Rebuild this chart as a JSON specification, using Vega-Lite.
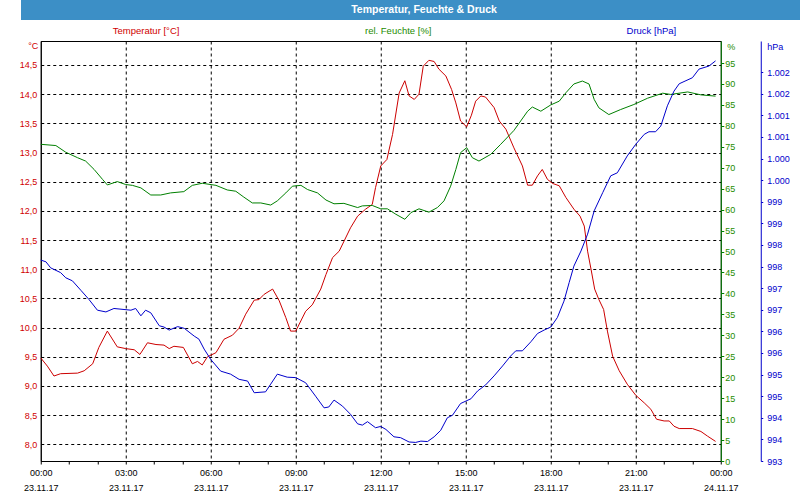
{
  "$schema": "https://vega.github.io/schema/vega-lite/v6.json",
  "padding": 0,
  "background": "white",
  "center": true,
  "spacing": 4,
  "config": {
    "font": "Liberation Sans",
    "view": {"stroke": "black"},
    "axis": {"labelFont": "Liberation Sans", "titleFont": "Liberation Sans", "labelFontSize": 9, "titleFontSize": 9, "titleFontWeight": "normal", "titlePadding": 0}
  },
  "datasets": {
    "temp": [
      {"t": "2017-11-23T00:00", "v": 9.48}, {"t": "2017-11-23T00:14", "v": 9.34}, {"t": "2017-11-23T00:28", "v": 9.17},
      {"t": "2017-11-23T00:42", "v": 9.21}, {"t": "2017-11-23T01:18", "v": 9.22}, {"t": "2017-11-23T01:32", "v": 9.26},
      {"t": "2017-11-23T01:50", "v": 9.38}, {"t": "2017-11-23T02:03", "v": 9.66}, {"t": "2017-11-23T02:21", "v": 9.94},
      {"t": "2017-11-23T02:42", "v": 9.67}, {"t": "2017-11-23T03:00", "v": 9.64}, {"t": "2017-11-23T03:18", "v": 9.62},
      {"t": "2017-11-23T03:30", "v": 9.54}, {"t": "2017-11-23T03:46", "v": 9.74}, {"t": "2017-11-23T04:04", "v": 9.71},
      {"t": "2017-11-23T04:21", "v": 9.70}, {"t": "2017-11-23T04:32", "v": 9.64}, {"t": "2017-11-23T04:42", "v": 9.68},
      {"t": "2017-11-23T05:02", "v": 9.66}, {"t": "2017-11-23T05:21", "v": 9.38}, {"t": "2017-11-23T05:32", "v": 9.42},
      {"t": "2017-11-23T05:42", "v": 9.36}, {"t": "2017-11-23T05:53", "v": 9.50}, {"t": "2017-11-23T06:11", "v": 9.57},
      {"t": "2017-11-23T06:28", "v": 9.80}, {"t": "2017-11-23T06:46", "v": 9.87}, {"t": "2017-11-23T07:00", "v": 9.99},
      {"t": "2017-11-23T07:14", "v": 10.23}, {"t": "2017-11-23T07:32", "v": 10.47}, {"t": "2017-11-23T07:42", "v": 10.48},
      {"t": "2017-11-23T07:53", "v": 10.57}, {"t": "2017-11-23T08:11", "v": 10.66}, {"t": "2017-11-23T08:25", "v": 10.46},
      {"t": "2017-11-23T08:39", "v": 10.17}, {"t": "2017-11-23T08:49", "v": 9.94}, {"t": "2017-11-23T09:00", "v": 9.94},
      {"t": "2017-11-23T09:21", "v": 10.28}, {"t": "2017-11-23T09:35", "v": 10.39}, {"t": "2017-11-23T09:53", "v": 10.66},
      {"t": "2017-11-23T10:04", "v": 10.91}, {"t": "2017-11-23T10:18", "v": 11.20}, {"t": "2017-11-23T10:32", "v": 11.31},
      {"t": "2017-11-23T10:56", "v": 11.71}, {"t": "2017-11-23T11:11", "v": 11.91}, {"t": "2017-11-23T11:28", "v": 12.03},
      {"t": "2017-11-23T11:42", "v": 12.11}, {"t": "2017-11-23T11:49", "v": 12.40}, {"t": "2017-11-23T12:00", "v": 12.77},
      {"t": "2017-11-23T12:13", "v": 12.88}, {"t": "2017-11-23T12:25", "v": 13.31}, {"t": "2017-11-23T12:39", "v": 14.02},
      {"t": "2017-11-23T12:51", "v": 14.23}, {"t": "2017-11-23T13:00", "v": 13.97}, {"t": "2017-11-23T13:11", "v": 13.91},
      {"t": "2017-11-23T13:21", "v": 14.00}, {"t": "2017-11-23T13:30", "v": 14.48}, {"t": "2017-11-23T13:42", "v": 14.58},
      {"t": "2017-11-23T13:53", "v": 14.56}, {"t": "2017-11-23T14:03", "v": 14.43}, {"t": "2017-11-23T14:18", "v": 14.31},
      {"t": "2017-11-23T14:30", "v": 14.08}, {"t": "2017-11-23T14:39", "v": 13.85}, {"t": "2017-11-23T14:49", "v": 13.54},
      {"t": "2017-11-23T15:02", "v": 13.44}, {"t": "2017-11-23T15:12", "v": 13.64}, {"t": "2017-11-23T15:21", "v": 13.88},
      {"t": "2017-11-23T15:32", "v": 13.97}, {"t": "2017-11-23T15:42", "v": 13.95}, {"t": "2017-11-23T16:00", "v": 13.77},
      {"t": "2017-11-23T16:11", "v": 13.54}, {"t": "2017-11-23T16:25", "v": 13.40}, {"t": "2017-11-23T16:42", "v": 13.08},
      {"t": "2017-11-23T17:00", "v": 12.77}, {"t": "2017-11-23T17:11", "v": 12.44}, {"t": "2017-11-23T17:21", "v": 12.44},
      {"t": "2017-11-23T17:32", "v": 12.60}, {"t": "2017-11-23T17:42", "v": 12.71}, {"t": "2017-11-23T17:53", "v": 12.54},
      {"t": "2017-11-23T18:04", "v": 12.47}, {"t": "2017-11-23T18:18", "v": 12.43}, {"t": "2017-11-23T18:32", "v": 12.23},
      {"t": "2017-11-23T18:49", "v": 12.03}, {"t": "2017-11-23T19:02", "v": 11.91}, {"t": "2017-11-23T19:11", "v": 11.74},
      {"t": "2017-11-23T19:18", "v": 11.31}, {"t": "2017-11-23T19:26", "v": 10.97}, {"t": "2017-11-23T19:33", "v": 10.66},
      {"t": "2017-11-23T19:42", "v": 10.48}, {"t": "2017-11-23T19:52", "v": 10.31}, {"t": "2017-11-23T20:00", "v": 9.94},
      {"t": "2017-11-23T20:11", "v": 9.51}, {"t": "2017-11-23T20:25", "v": 9.26}, {"t": "2017-11-23T20:42", "v": 9.03},
      {"t": "2017-11-23T21:00", "v": 8.84}, {"t": "2017-11-23T21:18", "v": 8.71}, {"t": "2017-11-23T21:32", "v": 8.60},
      {"t": "2017-11-23T21:44", "v": 8.43}, {"t": "2017-11-23T22:00", "v": 8.40}, {"t": "2017-11-23T22:11", "v": 8.40},
      {"t": "2017-11-23T22:21", "v": 8.31}, {"t": "2017-11-23T22:32", "v": 8.27}, {"t": "2017-11-23T23:00", "v": 8.27},
      {"t": "2017-11-23T23:18", "v": 8.22}, {"t": "2017-11-23T23:32", "v": 8.14}, {"t": "2017-11-23T23:49", "v": 8.05}
    ],
    "hum": [
      {"t": "2017-11-23T00:00", "v": 75.6}, {"t": "2017-11-23T00:32", "v": 75.3}, {"t": "2017-11-23T00:53", "v": 73.7},
      {"t": "2017-11-23T01:18", "v": 72.4}, {"t": "2017-11-23T01:35", "v": 71.6}, {"t": "2017-11-23T01:53", "v": 69.6},
      {"t": "2017-11-23T02:11", "v": 67.2}, {"t": "2017-11-23T02:21", "v": 65.9}, {"t": "2017-11-23T02:42", "v": 66.7},
      {"t": "2017-11-23T03:00", "v": 66.0}, {"t": "2017-11-23T03:14", "v": 65.8}, {"t": "2017-11-23T03:32", "v": 65.2},
      {"t": "2017-11-23T03:53", "v": 63.5}, {"t": "2017-11-23T04:14", "v": 63.5}, {"t": "2017-11-23T04:35", "v": 64.0},
      {"t": "2017-11-23T05:03", "v": 64.3}, {"t": "2017-11-23T05:21", "v": 65.8}, {"t": "2017-11-23T05:42", "v": 66.3},
      {"t": "2017-11-23T06:11", "v": 65.8}, {"t": "2017-11-23T06:35", "v": 64.7}, {"t": "2017-11-23T06:53", "v": 64.4},
      {"t": "2017-11-23T07:10", "v": 63.0}, {"t": "2017-11-23T07:28", "v": 61.6}, {"t": "2017-11-23T07:46", "v": 61.6},
      {"t": "2017-11-23T08:07", "v": 61.1}, {"t": "2017-11-23T08:21", "v": 62.1}, {"t": "2017-11-23T08:39", "v": 64.0},
      {"t": "2017-11-23T08:53", "v": 65.6}, {"t": "2017-11-23T09:11", "v": 65.8}, {"t": "2017-11-23T09:25", "v": 64.8},
      {"t": "2017-11-23T09:46", "v": 64.0}, {"t": "2017-11-23T10:04", "v": 62.3}, {"t": "2017-11-23T10:21", "v": 61.4},
      {"t": "2017-11-23T10:42", "v": 61.5}, {"t": "2017-11-23T11:11", "v": 60.5}, {"t": "2017-11-23T11:21", "v": 60.9},
      {"t": "2017-11-23T11:42", "v": 61.0}, {"t": "2017-11-23T12:00", "v": 60.2}, {"t": "2017-11-23T12:14", "v": 60.2},
      {"t": "2017-11-23T12:32", "v": 58.9}, {"t": "2017-11-23T12:51", "v": 57.7}, {"t": "2017-11-23T13:04", "v": 59.3},
      {"t": "2017-11-23T13:21", "v": 60.2}, {"t": "2017-11-23T13:42", "v": 59.4}, {"t": "2017-11-23T14:00", "v": 60.5},
      {"t": "2017-11-23T14:14", "v": 62.1}, {"t": "2017-11-23T14:28", "v": 65.6}, {"t": "2017-11-23T14:39", "v": 69.6},
      {"t": "2017-11-23T14:49", "v": 73.6}, {"t": "2017-11-23T15:02", "v": 74.8}, {"t": "2017-11-23T15:14", "v": 72.4},
      {"t": "2017-11-23T15:28", "v": 71.6}, {"t": "2017-11-23T15:53", "v": 73.2}, {"t": "2017-11-23T16:14", "v": 75.6},
      {"t": "2017-11-23T16:42", "v": 78.9}, {"t": "2017-11-23T17:11", "v": 83.5}, {"t": "2017-11-23T17:21", "v": 84.5},
      {"t": "2017-11-23T17:39", "v": 83.5}, {"t": "2017-11-23T18:00", "v": 85.0}, {"t": "2017-11-23T18:18", "v": 85.9},
      {"t": "2017-11-23T18:32", "v": 87.9}, {"t": "2017-11-23T18:49", "v": 90.0}, {"t": "2017-11-23T19:07", "v": 90.7},
      {"t": "2017-11-23T19:21", "v": 90.0}, {"t": "2017-11-23T19:32", "v": 86.3}, {"t": "2017-11-23T19:42", "v": 84.3},
      {"t": "2017-11-23T20:03", "v": 82.7}, {"t": "2017-11-23T20:28", "v": 83.9}, {"t": "2017-11-23T20:56", "v": 85.1},
      {"t": "2017-11-23T21:25", "v": 86.6}, {"t": "2017-11-23T21:57", "v": 87.8}, {"t": "2017-11-23T22:14", "v": 87.5},
      {"t": "2017-11-23T22:50", "v": 88.1}, {"t": "2017-11-23T23:18", "v": 87.4}, {"t": "2017-11-23T23:49", "v": 87.1}
    ],
    "press": [
      {"t": "2017-11-23T00:00", "v": 997.65}, {"t": "2017-11-23T00:11", "v": 997.61}, {"t": "2017-11-23T00:21", "v": 997.47},
      {"t": "2017-11-23T00:42", "v": 997.36}, {"t": "2017-11-23T00:53", "v": 997.24}, {"t": "2017-11-23T01:07", "v": 997.17},
      {"t": "2017-11-23T01:25", "v": 996.95}, {"t": "2017-11-23T01:42", "v": 996.74}, {"t": "2017-11-23T02:00", "v": 996.49},
      {"t": "2017-11-23T02:18", "v": 996.45}, {"t": "2017-11-23T02:35", "v": 996.53}, {"t": "2017-11-23T03:11", "v": 996.49},
      {"t": "2017-11-23T03:21", "v": 996.53}, {"t": "2017-11-23T03:32", "v": 996.36}, {"t": "2017-11-23T03:42", "v": 996.49},
      {"t": "2017-11-23T03:53", "v": 996.43}, {"t": "2017-11-23T04:11", "v": 996.13}, {"t": "2017-11-23T04:21", "v": 996.10},
      {"t": "2017-11-23T04:32", "v": 996.03}, {"t": "2017-11-23T04:50", "v": 996.11}, {"t": "2017-11-23T05:04", "v": 996.07},
      {"t": "2017-11-23T05:25", "v": 995.89}, {"t": "2017-11-23T05:35", "v": 995.82}, {"t": "2017-11-23T05:46", "v": 995.59},
      {"t": "2017-11-23T06:00", "v": 995.35}, {"t": "2017-11-23T06:21", "v": 995.08}, {"t": "2017-11-23T06:42", "v": 995.01},
      {"t": "2017-11-23T07:00", "v": 994.89}, {"t": "2017-11-23T07:18", "v": 994.85}, {"t": "2017-11-23T07:32", "v": 994.58},
      {"t": "2017-11-23T07:56", "v": 994.60}, {"t": "2017-11-23T08:07", "v": 994.78}, {"t": "2017-11-23T08:21", "v": 995.01},
      {"t": "2017-11-23T08:42", "v": 994.94}, {"t": "2017-11-23T09:00", "v": 994.93}, {"t": "2017-11-23T09:21", "v": 994.81},
      {"t": "2017-11-23T09:42", "v": 994.50}, {"t": "2017-11-23T10:00", "v": 994.23}, {"t": "2017-11-23T10:10", "v": 994.25},
      {"t": "2017-11-23T10:21", "v": 994.41}, {"t": "2017-11-23T10:39", "v": 994.27}, {"t": "2017-11-23T10:56", "v": 994.08},
      {"t": "2017-11-23T11:11", "v": 993.86}, {"t": "2017-11-23T11:21", "v": 993.83}, {"t": "2017-11-23T11:32", "v": 993.91},
      {"t": "2017-11-23T11:49", "v": 993.77}, {"t": "2017-11-23T12:00", "v": 993.80}, {"t": "2017-11-23T12:11", "v": 993.73},
      {"t": "2017-11-23T12:28", "v": 993.56}, {"t": "2017-11-23T12:42", "v": 993.54}, {"t": "2017-11-23T13:00", "v": 993.44},
      {"t": "2017-11-23T13:14", "v": 993.43}, {"t": "2017-11-23T13:25", "v": 993.46}, {"t": "2017-11-23T13:39", "v": 993.45},
      {"t": "2017-11-23T13:53", "v": 993.56}, {"t": "2017-11-23T14:07", "v": 993.71}, {"t": "2017-11-23T14:21", "v": 994.00},
      {"t": "2017-11-23T14:32", "v": 994.06}, {"t": "2017-11-23T14:49", "v": 994.33}, {"t": "2017-11-23T15:11", "v": 994.44},
      {"t": "2017-11-23T15:25", "v": 994.62}, {"t": "2017-11-23T15:42", "v": 994.76}, {"t": "2017-11-23T16:00", "v": 994.97},
      {"t": "2017-11-23T16:18", "v": 995.20}, {"t": "2017-11-23T16:35", "v": 995.43}, {"t": "2017-11-23T16:46", "v": 995.55},
      {"t": "2017-11-23T17:00", "v": 995.55}, {"t": "2017-11-23T17:18", "v": 995.76}, {"t": "2017-11-23T17:32", "v": 995.95},
      {"t": "2017-11-23T17:46", "v": 996.03}, {"t": "2017-11-23T18:00", "v": 996.10}, {"t": "2017-11-23T18:14", "v": 996.32},
      {"t": "2017-11-23T18:28", "v": 996.70}, {"t": "2017-11-23T18:39", "v": 997.13}, {"t": "2017-11-23T18:49", "v": 997.51},
      {"t": "2017-11-23T19:04", "v": 997.86}, {"t": "2017-11-23T19:18", "v": 998.25}, {"t": "2017-11-23T19:32", "v": 998.79},
      {"t": "2017-11-23T19:50", "v": 999.21}, {"t": "2017-11-23T20:07", "v": 999.60}, {"t": "2017-11-23T20:21", "v": 999.67},
      {"t": "2017-11-23T20:42", "v": 1000.06}, {"t": "2017-11-23T21:00", "v": 1000.33}, {"t": "2017-11-23T21:18", "v": 1000.56},
      {"t": "2017-11-23T21:28", "v": 1000.62}, {"t": "2017-11-23T21:42", "v": 1000.62}, {"t": "2017-11-23T21:53", "v": 1000.75},
      {"t": "2017-11-23T22:07", "v": 1001.22}, {"t": "2017-11-23T22:21", "v": 1001.56}, {"t": "2017-11-23T22:32", "v": 1001.73},
      {"t": "2017-11-23T23:00", "v": 1001.87}, {"t": "2017-11-23T23:14", "v": 1002.07}, {"t": "2017-11-23T23:35", "v": 1002.14},
      {"t": "2017-11-23T23:49", "v": 1002.26}
    ],
    "header": [{"title": "Temperatur, Feuchte & Druck"}]
  },
  "vconcat": [
    {
      "width": 800,
      "height": 20,
      "view": {"fill": "#3c8fc6", "stroke": null},
      "data": {"name": "header"},
      "mark": {"type": "text", "color": "white", "fontWeight": "bold", "fontSize": 10.5, "font": "Liberation Sans", "dx": 3},
      "encoding": {"text": {"field": "title", "type": "nominal"}}
    },
    {
      "width": 680,
      "height": 420,
      "resolve": {"scale": {"y": "independent"}, "axis": {"x": "independent", "y": "independent"}},
      "layer": [
        {
          "data": {"name": "temp"},
          "mark": {"type": "line", "color": "#cc0000", "strokeWidth": 1},
          "encoding": {
            "x": {
              "field": "t", "type": "temporal",
              "scale": {"domain": [{"year": 2017, "month": 11, "date": 23, "hours": 0}, {"year": 2017, "month": 11, "date": 24, "hours": 0}], "nice": false},
              "axis": {
                "orient": "bottom", "title": null,
                "values": [
                  {"year": 2017, "month": 11, "date": 23, "hours": 0}, {"year": 2017, "month": 11, "date": 23, "hours": 1},
                  {"year": 2017, "month": 11, "date": 23, "hours": 2}, {"year": 2017, "month": 11, "date": 23, "hours": 3},
                  {"year": 2017, "month": 11, "date": 23, "hours": 4}, {"year": 2017, "month": 11, "date": 23, "hours": 5},
                  {"year": 2017, "month": 11, "date": 23, "hours": 6}, {"year": 2017, "month": 11, "date": 23, "hours": 7},
                  {"year": 2017, "month": 11, "date": 23, "hours": 8}, {"year": 2017, "month": 11, "date": 23, "hours": 9},
                  {"year": 2017, "month": 11, "date": 23, "hours": 10}, {"year": 2017, "month": 11, "date": 23, "hours": 11},
                  {"year": 2017, "month": 11, "date": 23, "hours": 12}, {"year": 2017, "month": 11, "date": 23, "hours": 13},
                  {"year": 2017, "month": 11, "date": 23, "hours": 14}, {"year": 2017, "month": 11, "date": 23, "hours": 15},
                  {"year": 2017, "month": 11, "date": 23, "hours": 16}, {"year": 2017, "month": 11, "date": 23, "hours": 17},
                  {"year": 2017, "month": 11, "date": 23, "hours": 18}, {"year": 2017, "month": 11, "date": 23, "hours": 19},
                  {"year": 2017, "month": 11, "date": 23, "hours": 20}, {"year": 2017, "month": 11, "date": 23, "hours": 21},
                  {"year": 2017, "month": 11, "date": 23, "hours": 22}, {"year": 2017, "month": 11, "date": 23, "hours": 23},
                  {"year": 2017, "month": 11, "date": 24, "hours": 0}
                ],
                "labelExpr": "hours(datum.value) % 3 == 0 ? [timeFormat(datum.value, '%H:%M'), timeFormat(datum.value, '%d.%m.%y')] : ''",
                "labelColor": "black", "labelLineHeight": 15, "labelPadding": 4,
                "labelOverlap": false, "labelFlush": false, "labelBound": false,
                "tickSize": 3, "tickColor": "black", "domainColor": "black",
                "grid": true, "gridColor": "black", "gridDash": [3, 3],
                "gridOpacity": {"condition": {"test": "hours(datum.value) % 3 == 0 && hours(datum.value) != 0", "value": 1}, "value": 0}
              }
            },
            "y": {
              "field": "v", "type": "quantitative",
              "scale": {"domain": [7.714, 14.911], "nice": false, "zero": false},
              "axis": {
                "orient": "left", "minExtent": 40, "maxExtent": 40,
                "values": [8, 8.5, 9, 9.5, 10, 10.5, 11, 11.5, 12, 12.5, 13, 13.5, 14, 14.5],
                "labelExpr": "replace(format(datum.value, '.1f'), '.', ',')",
                "labelColor": "#d00000", "ticks": false, "tickSize": 0, "labelPadding": 4,
                "domainColor": "black",
                "grid": true, "gridColor": "black", "gridDash": [3, 3],
                "title": "°C",
                "titleAngle": 0, "titleAlign": "right", "titleBaseline": "middle",
                "titleX": -3, "titleY": 4.5, "titleColor": "#d00000"
              }
            }
          }
        },
        {
          "data": {"name": "hum"},
          "mark": {"type": "line", "color": "#008000", "strokeWidth": 1},
          "encoding": {
            "x": {
              "field": "t", "type": "temporal",
              "scale": {"domain": [{"year": 2017, "month": 11, "date": 23, "hours": 0}, {"year": 2017, "month": 11, "date": 24, "hours": 0}], "nice": false},
              "axis": {
                "orient": "top", "title": null, "minExtent": 16, "maxExtent": 16,
                "values": [
                  {"year": 2017, "month": 11, "date": 23, "hours": 3, "minutes": 42},
                  {"year": 2017, "month": 11, "date": 23, "hours": 12, "minutes": 36},
                  {"year": 2017, "month": 11, "date": 23, "hours": 21, "minutes": 32}
                ],
                "labelExpr": "hours(datum.value) < 6 ? 'Temperatur [°C]' : (hours(datum.value) < 18 ? 'rel. Feuchte [%]' : 'Druck [hPa]')",
                "labelColor": {"condition": [{"test": "hours(datum.value) < 6", "value": "#d00000"}, {"test": "hours(datum.value) < 18", "value": "#1e8c00"}], "value": "#0000cc"},
                "labelFontSize": 9.5, "labelPadding": 11, "labelBaseline": "middle",
                "labelOverlap": false, "labelFlush": false, "labelBound": false,
                "ticks": false, "tickSize": 0, "grid": false, "domainColor": "black"
              }
            },
            "y": {
              "field": "v", "type": "quantitative",
              "scale": {"domain": [0, 100.26], "nice": false, "zero": false},
              "axis": {
                "orient": "right", "minExtent": 20, "maxExtent": 20,
                "values": [0, 5, 10, 15, 20, 25, 30, 35, 40, 45, 50, 55, 60, 65, 70, 75, 80, 85, 90, 95],
                "labelColor": "#1e8c00", "tickColor": "#008000", "tickSize": 3, "labelPadding": 1,
                "domainColor": "#008000", "grid": false,
                "title": "%", "titleAngle": 0, "titleAlign": "left", "titleBaseline": "middle",
                "titleX": 6, "titleY": 5.5, "titleColor": "#1e8c00"
              }
            }
          }
        },
        {
          "data": {"name": "press"},
          "mark": {"type": "line", "color": "#0000cc", "strokeWidth": 1},
          "encoding": {
            "x": {
              "field": "t", "type": "temporal",
              "scale": {"domain": [{"year": 2017, "month": 11, "date": 23, "hours": 0}, {"year": 2017, "month": 11, "date": 24, "hours": 0}], "nice": false},
              "axis": null
            },
            "y": {
              "field": "v", "type": "quantitative",
              "scale": {"domain": [993, 1002.72], "nice": false, "zero": false},
              "axis": {
                "orient": "right", "offset": 40, "minExtent": 40, "maxExtent": 40,
                "values": [993, 993.5, 994, 994.5, 995, 995.5, 996, 996.5, 997, 997.5, 998, 998.5, 999, 999.5, 1000, 1000.5, 1001, 1001.5, 1002],
                "labelExpr": "round(datum.value) >= 1000 ? '1.' + format(round(datum.value) - 1000, '03d') : format(round(datum.value), 'd')",
                "labelColor": "#0000cc", "tickColor": "#0000cc", "tickSize": 2, "labelPadding": 4,
                "domainColor": "#0000cc", "grid": false,
                "title": "hPa", "titleAngle": 0, "titleAlign": "left", "titleBaseline": "middle",
                "titleX": 6, "titleY": 5.5, "titleColor": "#0000cc"
              }
            }
          }
        }
      ]
    }
  ]
}
